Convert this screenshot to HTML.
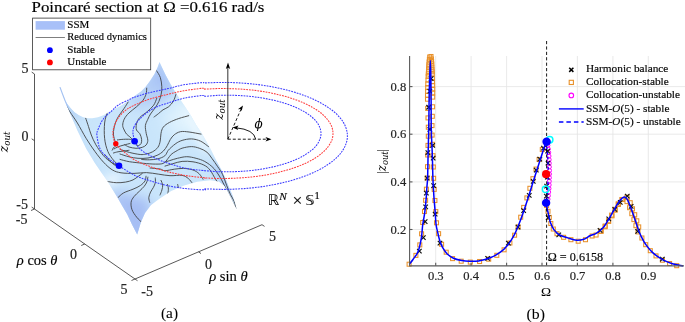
<!DOCTYPE html>
<html><head><meta charset="utf-8"><style>
html,body{margin:0;padding:0;background:#fff;}
svg{display:block;}
text{stroke:#1a1a1a;stroke-width:0.18px;}
</style></head><body>
<svg width="685" height="322" viewBox="0 0 685 322" font-family="Liberation Serif, serif">
<g stroke="#3a3a3a" stroke-width="0.85" fill="none"><path d="M34.5 74V209L135 279L262 224.7"/><path d="M34.5 74l-2.8 -1.9M34.5 140.7l-2.8 -1.9M34.5 209l-2.8 -1.9"/><path d="M34.5 209l-3.5 1.5M84.75 244l-3.5 1.5M135 279l-3.5 1.5"/><path d="M135 279l2.5 1.7M198.5 251.85l2.5 1.7M262 224.7l2.5 1.7"/></g><g font-size="14" text-anchor="end" fill="#262626"><text x="28.5" y="72.7">5</text><text x="28.4" y="141.0">0</text><text x="27.9" y="208.5">-5</text><text x="27.5" y="224.4">-5</text><text x="76.9" y="258.9">0</text><text x="127.5" y="293.7">5</text><text x="152.9" y="295.7">-5</text><text x="211.9" y="268.7">0</text><text x="275.9" y="241.2">5</text></g><text style="stroke-width:0.15px" x="16.8" y="265.4" font-size="14.5" textLength="40.7" lengthAdjust="spacingAndGlyphs"><tspan font-style="italic">&#961;</tspan> cos <tspan font-style="italic">&#952;</tspan></text><text style="stroke-width:0.15px" x="209.2" y="280.8" font-size="14.5" textLength="38.5" lengthAdjust="spacingAndGlyphs"><tspan font-style="italic">&#961;</tspan> sin <tspan font-style="italic">&#952;</tspan></text><text style="stroke:none" transform="translate(8.0 141.9) rotate(-90)" text-anchor="middle" font-size="13.5" font-family="DejaVu Serif" font-style="italic" textLength="20.6" lengthAdjust="spacingAndGlyphs">z<tspan font-size="9.5" dy="2.2">out</tspan></text><text style="stroke-width:0.08px" x="169.5" y="317.8" text-anchor="middle" font-size="14.5" textLength="17" lengthAdjust="spacingAndGlyphs">(a)</text><defs><clipPath id="sc"><path d="M60.1 87.6 L63.0 95.0 L66.2 102.4 L70.9 108.5 L74.5 112.3 L78.5 115.0 L83.0 117.3 L88.0 118.3 L92.3 118.3 L98.0 117.2 L103.4 115.2 L110.0 111.5 L115.0 108.7 L123.0 104.5 L130.0 99.5 L136.0 95.0 L141.0 91.5 L145.5 87.0 L150.0 81.0 L154.5 74.0 L157.5 67.5 L159.5 62.1 L162.5 68.5 L165.9 75.5 L170.5 84.0 L176.2 93.5 L183.6 104.5 L191.1 116.0 L196.2 125.0 L202.4 134.3 L210.2 148.3 L216.4 160.7 L221.5 170.0 L225.0 177.5 L228.4 185.7 L232.5 195.3 L235.2 203.5 L236.8 209.5 L233.8 203.5 L231.1 198.0 L227.7 191.2 L224.3 185.7 L218.8 181.6 L210.4 180.3 L197.3 181.7 L184.2 185.4 L171.2 191.0 L159.8 198.5 L151.0 205.0 L145.0 213.0 L141.0 222.0 L137.2 234.4 L132.0 224.5 L127.3 214.6 L122.0 205.5 L117.3 197.2 L112.5 189.5 L107.4 181.1 L101.3 172.5 L94.8 163.0 L86.1 148.5 L77.4 130.5 L68.7 110.0 L64.0 98.0Z"/></clipPath><filter id="b6" x="-50%" y="-50%" width="200%" height="200%"><feGaussianBlur stdDeviation="6"/></filter><filter id="b4" x="-50%" y="-50%" width="200%" height="200%"><feGaussianBlur stdDeviation="4"/></filter><filter id="b9" x="-50%" y="-50%" width="200%" height="200%"><feGaussianBlur stdDeviation="9"/></filter></defs><g clip-path="url(#sc)"><rect x="50" y="55" width="200" height="190" fill="#c9e5fb"/><path d="M58 85 L75 140 L100 185 L138 240 L120 240 L60 150 Z" fill="#a6c6f5" filter="url(#b6)"/><path d="M110 190 L150 200 L150 240 L130 240 Z" fill="#a6bef4" filter="url(#b6)"/><path d="M143 92 L160 56 L175 92 L160 102 Z" fill="#a4bff5" filter="url(#b6)"/><path d="M125 100 L160 80 L165 100 L140 110 Z" fill="#b6d0f7" filter="url(#b6)"/><path d="M210 160 L226 170 L240 212 L226 190 Z" fill="#a6c4f5" filter="url(#b4)"/><path d="M62 92 L85 117 L70 118 Z" fill="#b8d4f7" filter="url(#b4)"/><path d="M165 110 L185 100 L200 128 L185 140 L168 130 Z" fill="#e2f4fe" filter="url(#b9)"/><path d="M180 100 L200 128 L212 155 L203 150 L188 122 Z" fill="#f2fbff" filter="url(#b4)"/><path d="M98 178 L125 173 L112 186 Z" fill="#eef8ff" filter="url(#b4)"/></g><path d="M60.1 87.5 L62.5 94 L65 100.5 L68 107.5" fill="none" stroke="#a4c2f2" stroke-width="1.1" stroke-linecap="round"/><g clip-path="url(#sc)" fill="none" stroke="#3a3a3a" stroke-width="0.95" stroke-linecap="round" opacity="0.9"><path d="M64.3 102.4 C65.2 104.0 67.8 108.6 70.0 112.0 C72.2 115.4 74.7 118.6 77.4 123.0 C80.1 127.4 83.2 133.6 86.1 138.3 C89.0 143.0 91.9 147.3 94.8 151.3 C97.7 155.3 100.6 159.1 103.5 162.2 C106.4 165.3 109.3 168.0 112.2 169.8 C115.1 171.6 117.4 172.2 121.0 172.8 C124.6 173.4 129.8 173.4 134.0 173.4 C138.2 173.4 142.3 172.5 146.4 172.6 C150.5 172.7 154.9 173.7 158.8 174.2 C162.7 174.7 166.1 175.5 170.0 175.7 C173.9 175.9 179.0 174.9 182.1 175.4 C185.2 175.9 186.6 177.2 188.3 178.5 C190.0 179.8 191.5 182.3 192.2 183.1"/><path d="M85.7 118.2 C86.2 119.6 87.6 123.8 88.5 126.6 C89.4 129.4 90.1 132.0 91.3 135.0 C92.5 138.0 93.9 141.4 95.9 144.8 C97.9 148.2 101.0 152.8 103.5 155.7 C106.0 158.6 108.8 160.6 111.1 162.2 C113.4 163.8 116.5 164.9 117.6 165.4"/><path d="M107.2 112.6 C106.8 114.3 105.0 118.7 104.6 123.0 C104.2 127.3 104.1 133.6 104.6 138.3 C105.1 143.0 106.3 147.7 107.8 151.3 C109.2 154.9 111.6 157.8 113.3 160.0 C115.0 162.2 117.2 163.8 118.0 164.5"/><path d="M128.1 102.1 C127.4 103.1 125.5 106.4 124.2 108.3 C122.9 110.2 121.6 111.8 120.3 113.7 C119.0 115.7 117.5 117.6 116.5 120.0 C115.5 122.4 114.5 125.5 114.0 128.0 C113.5 130.5 113.3 132.8 113.5 135.0 C113.7 137.2 114.8 140.0 115.0 141.0"/><path d="M105.0 154.8 C106.0 156.1 109.3 160.4 111.2 162.3 C113.1 164.2 115.4 165.4 116.2 166.0"/><path d="M156.6 70.8 C157.2 71.9 159.4 74.8 160.3 77.4 C161.2 80.1 161.7 83.9 161.8 86.7 C162.0 89.5 161.7 91.6 161.2 94.1 C160.7 96.6 159.8 99.3 158.8 101.6 C157.8 103.9 156.4 105.9 155.0 108.0 C153.6 110.1 151.7 112.1 150.5 114.0 C149.3 115.9 148.7 117.4 147.8 119.3 C147.0 121.2 145.7 123.2 145.4 125.5 C145.1 127.8 145.8 130.8 146.2 133.3 C146.6 135.8 147.8 138.4 147.8 140.3 C147.8 142.2 147.1 143.7 146.2 144.9 C145.3 146.1 144.0 146.7 142.3 147.3 C140.6 147.9 138.2 148.4 136.0 148.3 C133.8 148.2 130.9 147.6 129.0 147.0 C127.1 146.4 125.4 145.1 124.7 144.7"/><path d="M146.7 88.1 C146.6 89.1 146.7 92.2 146.0 94.3 C145.3 96.4 144.4 98.4 142.8 100.5 C141.2 102.6 138.9 104.6 136.6 106.7 C134.3 108.8 131.0 110.9 128.9 113.0 C126.8 115.1 125.2 117.1 124.2 119.2 C123.2 121.3 122.7 123.6 122.7 125.4 C122.7 127.2 123.6 128.6 124.2 130.0 C124.8 131.4 125.6 132.9 126.5 134.0 C127.4 135.1 128.9 136.0 129.8 136.8 C130.7 137.6 131.6 138.6 132.0 139.0"/><path d="M156.8 98.2 C156.3 99.4 155.2 103.0 153.7 105.2 C152.1 107.4 149.8 109.3 147.5 111.4 C145.2 113.5 141.5 115.5 139.7 117.6 C137.9 119.7 137.0 121.7 136.5 123.8 C136.0 125.9 135.9 128.3 136.5 130.0 C137.1 131.7 139.0 132.1 139.8 133.7 C140.7 135.2 141.4 137.6 141.6 139.3 C141.8 141.0 141.5 142.7 141.0 143.7 C140.5 144.7 139.3 145.3 138.5 145.5 C137.7 145.7 136.5 145.0 136.1 144.9"/><path d="M176.2 93.6 C175.7 94.8 174.7 98.9 173.4 101.1 C172.2 103.3 170.4 105.2 168.7 106.7 C167.0 108.2 164.7 108.6 163.0 109.8 C161.3 111.0 159.9 112.5 158.4 113.7 C156.9 114.9 154.7 116.5 154.0 117.0"/><path d="M188.7 115.7 C187.0 116.2 182.0 117.4 178.8 118.5 C175.6 119.6 172.1 121.0 169.5 122.4 C166.9 123.8 164.7 125.3 163.3 127.1 C161.9 128.9 161.5 131.0 161.0 133.3 C160.5 135.6 160.7 138.8 160.2 141.1 C159.7 143.4 159.2 145.5 157.9 147.3 C156.6 149.1 154.4 150.8 152.4 151.9 C150.4 153.0 148.2 153.6 146.2 154.0 C144.2 154.4 143.0 154.8 140.2 154.5 C137.4 154.2 132.7 153.3 129.3 152.4 C125.9 151.5 121.5 149.8 120.0 149.3"/><path d="M201.1 134.1 C199.1 133.8 192.5 132.4 189.1 132.0 C185.7 131.6 182.9 131.2 180.4 131.7 C177.9 132.2 175.9 133.5 174.2 134.8 C172.5 136.1 171.5 137.7 170.3 139.5 C169.1 141.3 168.4 143.8 167.2 145.7 C166.0 147.6 165.0 149.5 163.3 151.1 C161.6 152.7 159.7 154.2 157.1 155.3 C154.5 156.5 151.2 157.5 148.0 158.0 C144.8 158.5 141.2 158.5 138.0 158.3 C134.8 158.1 132.0 157.5 129.0 156.8 C126.0 156.1 121.5 154.5 120.0 154.0"/><path d="M208.5 146.6 C207.2 145.7 203.5 142.5 200.7 141.2 C197.8 139.9 194.5 139.0 191.4 138.9 C188.3 138.8 184.7 139.6 182.1 140.4 C179.5 141.2 177.7 142.3 175.9 143.5 C174.1 144.7 172.5 146.2 171.2 147.4 C169.9 148.6 169.2 149.1 168.1 150.5 C167.0 151.9 166.5 154.4 164.8 155.8 C163.1 157.2 160.6 158.1 158.0 158.8 C155.4 159.5 152.2 159.7 149.5 159.8 C146.8 159.9 143.0 159.6 141.7 159.5"/><path d="M236.3 208.5 C235.9 207.2 234.9 203.3 234.0 201.0 C233.1 198.7 231.8 197.3 230.6 194.8 C229.4 192.3 228.2 189.2 226.8 185.8 C225.5 182.4 224.0 177.5 222.5 174.3 C221.0 171.1 219.6 169.4 217.8 166.8 C216.1 164.2 213.8 160.9 212.0 158.5 C210.2 156.1 209.0 153.8 206.9 152.1 C204.8 150.4 201.8 149.1 199.2 148.2 C196.6 147.3 194.2 146.6 191.4 146.6 C188.6 146.6 184.7 147.4 182.1 148.2 C179.5 149.0 177.7 150.3 175.9 151.3 C174.1 152.3 172.5 153.2 171.2 154.4 C169.9 155.6 169.3 157.0 168.0 158.5 C166.7 160.0 165.6 162.4 163.5 163.3 C161.4 164.2 159.1 164.1 155.7 164.1 C152.3 164.1 147.7 163.7 143.3 163.3 C138.9 162.9 133.2 162.3 129.3 161.7 C125.4 161.0 121.5 159.8 120.0 159.4"/><path d="M165.0 162.2 C165.8 161.9 167.6 161.2 169.7 160.6 C171.8 159.9 174.6 159.0 177.4 158.3 C180.2 157.7 183.6 156.7 186.7 156.7 C189.8 156.7 193.1 157.5 196.1 158.3 C199.1 159.1 201.8 159.8 204.8 161.5 C207.8 163.2 211.3 165.6 214.1 168.7 C216.9 171.8 219.4 176.0 221.6 179.9 C223.8 183.8 225.7 188.3 227.5 192.0 C229.3 195.7 231.2 199.5 232.5 202.0 C233.8 204.5 235.0 206.2 235.5 207.0"/><path d="M165.0 166.1 C166.3 165.7 170.0 164.5 172.8 163.7 C175.7 162.9 178.7 161.7 182.1 161.4 C185.5 161.1 189.4 161.2 193.0 161.8 C196.6 162.4 201.0 163.6 203.8 165.0 C206.6 166.4 208.0 167.5 210.0 170.0 C212.0 172.5 213.8 176.6 216.0 179.9 C218.2 183.2 220.8 187.0 223.0 190.0 C225.2 193.0 227.0 195.2 229.0 198.0 C231.0 200.8 234.0 205.5 235.0 207.0"/><path d="M150.0 168.0 C151.7 168.2 157.5 168.6 160.0 169.0 C162.5 169.4 162.6 170.7 165.0 170.7 C167.4 170.7 171.2 169.6 174.3 169.2 C177.4 168.8 180.5 168.3 183.6 168.4 C186.7 168.5 190.4 169.1 193.0 170.0 C195.6 170.9 197.5 172.2 199.2 173.8 C200.9 175.4 202.4 178.4 203.0 179.3"/><path d="M117.4 139.9 C118.4 139.8 121.5 139.4 123.6 139.3 C125.7 139.2 128.4 139.2 129.8 139.3 C131.2 139.4 131.6 139.9 132.0 140.0"/><path d="M115.5 146.0 C115.1 146.3 113.8 147.3 113.3 148.0 C112.8 148.7 112.4 149.8 112.2 150.2"/><path d="M114.0 149.0 C114.7 148.6 116.3 147.5 118.0 146.8 C119.7 146.1 122.0 145.6 124.0 145.0 C126.0 144.4 129.0 143.8 130.0 143.5"/><path d="M113.5 153.0 C114.2 152.8 116.2 152.1 118.0 151.8 C119.8 151.5 122.2 151.2 124.0 151.0 C125.8 150.8 128.2 150.4 129.0 150.3"/><path d="M106.9 181.4 C108.5 181.6 113.1 182.6 116.2 182.7 C119.3 182.8 122.7 182.6 125.5 182.1 C128.3 181.6 130.8 180.9 133.0 179.9 C135.2 178.9 136.9 177.3 138.5 176.2 C140.1 175.1 141.7 173.9 142.3 173.4"/><path d="M118.0 197.6 C118.9 196.8 121.1 194.3 123.6 192.9 C126.1 191.5 130.2 190.4 133.0 189.2 C135.8 188.0 138.4 186.9 140.4 185.5 C142.4 184.1 144.2 182.4 145.1 180.8 C146.0 179.2 145.8 177.0 146.0 176.2"/><path d="M142.3 222.8 C141.4 221.9 138.4 219.4 136.7 217.2 C135.0 215.0 132.9 212.2 132.0 209.7 C131.1 207.2 130.8 204.5 131.1 202.3 C131.4 200.1 132.5 198.6 133.9 196.7 C135.3 194.8 137.8 192.8 139.5 191.1 C141.2 189.4 142.9 187.9 144.1 186.4 C145.3 184.9 146.3 183.4 146.9 181.8 C147.5 180.2 147.7 177.9 147.9 177.1"/><path d="M149.7 202.3 C149.5 201.5 148.7 199.3 148.8 197.6 C149.0 195.9 149.8 193.7 150.6 192.0 C151.4 190.3 152.6 189.0 153.4 187.4 C154.2 185.8 155.0 184.3 155.3 182.7 C155.6 181.1 155.3 178.8 155.3 178.0"/><path d="M160.0 195.0 C160.3 194.2 161.5 191.7 161.9 190.0 C162.3 188.3 162.8 186.6 162.7 185.0 C162.5 183.4 161.3 181.2 161.0 180.4"/><path d="M167.5 184.5 C167.7 185.3 168.4 187.5 168.4 189.2 C168.4 190.9 167.7 193.9 167.5 194.8"/><path d="M177.7 184.5 C177.9 185.3 178.5 188.7 178.7 189.5"/></g><path d="M98.0 129.6 C99.1 126.7 101.1 121.9 103.5 118.7 C105.9 115.5 109.8 112.8 112.2 110.5 C114.6 108.2 115.3 107.0 118.0 105.2 C120.7 103.4 126.0 101.2 128.6 99.9 C131.2 98.6 130.4 98.7 133.5 97.6 C136.6 96.5 141.6 94.7 147.3 93.2 C153.1 91.7 161.9 90.0 168.0 88.6 C174.1 87.2 177.9 85.8 183.6 84.8 C189.3 83.8 198.7 82.9 202.3 82.6 C205.9 82.3 201.6 82.9 205.0 82.9 C208.4 82.9 216.8 82.4 222.8 82.4 C228.7 82.4 234.7 82.6 240.5 83.0 C246.4 83.3 252.2 83.9 257.9 84.6 C263.6 85.3 269.2 86.2 274.6 87.3 C280.0 88.4 285.2 89.6 290.2 91.0 C295.2 92.4 300.0 93.9 304.4 95.6 C308.9 97.2 313.1 99.0 317.0 100.9 C320.9 102.9 324.4 104.9 327.6 107.1 C330.8 109.2 333.7 111.4 336.2 113.7 C338.6 116.0 340.7 118.4 342.4 120.9 C344.0 123.3 345.3 125.8 346.1 128.3 C347.0 130.8 347.4 133.4 347.4 135.9 C347.4 138.4 347.0 141.0 346.1 143.5 C345.3 146.0 344.0 148.5 342.4 150.9 C340.7 153.4 338.6 155.8 336.2 158.1 C333.7 160.4 330.8 162.6 327.6 164.7 C324.4 166.9 320.9 168.9 317.0 170.9 C313.1 172.8 308.9 174.6 304.4 176.2 C300.0 177.9 295.2 179.4 290.2 180.8 C285.2 182.2 280.0 183.4 274.6 184.5 C269.2 185.6 263.6 186.5 257.9 187.2 C252.2 187.9 246.4 188.5 240.5 188.8 C234.7 189.2 228.7 189.4 222.8 189.4 C216.8 189.4 208.0 188.8 205.0 188.9 C202.0 189.0 207.7 189.9 204.5 189.9 C201.3 189.9 192.1 189.3 185.9 188.6 C179.7 187.9 173.1 186.8 167.3 185.6 C161.5 184.3 156.4 182.8 151.1 181.1 C145.8 179.4 140.8 178.2 135.5 175.7 C130.2 173.1 123.6 168.8 119.0 165.8 C114.4 162.8 110.9 160.6 107.8 157.8 C104.7 155.0 102.0 152.7 100.2 149.1 C98.4 145.5 97.4 139.2 97.0 136.0 C96.6 132.8 96.9 132.5 98.0 129.6Z" fill="none" stroke="#3b3bff" stroke-width="1.05" stroke-dasharray="1.8 1.0"/><path d="M113.3 129.6 C114.0 126.5 115.6 122.1 117.6 118.9 C119.6 115.7 122.5 112.8 125.2 110.6 C127.9 108.4 129.5 107.5 133.5 105.6 C137.5 103.7 143.3 101.2 149.1 99.3 C154.8 97.4 162.2 95.7 168.0 94.3 C173.8 92.9 177.9 91.8 183.6 90.8 C189.3 89.8 198.7 88.6 202.3 88.3 C205.9 88.0 201.9 89.1 205.0 89.1 C208.1 89.1 215.5 88.5 220.8 88.5 C226.1 88.5 231.5 88.6 236.7 88.9 C241.9 89.1 247.2 89.6 252.3 90.1 C257.4 90.7 262.4 91.4 267.3 92.3 C272.1 93.2 276.8 94.2 281.3 95.4 C285.8 96.5 290.1 97.8 294.1 99.2 C298.2 100.6 302.0 102.1 305.5 103.7 C309.0 105.4 312.2 107.1 315.1 108.9 C318.0 110.7 320.6 112.6 322.8 114.6 C325.0 116.6 326.9 118.6 328.4 120.7 C329.9 122.7 331.1 124.9 331.9 127.0 C332.6 129.2 333.0 131.3 333.0 133.5 C333.0 135.7 332.6 137.8 331.9 140.0 C331.1 142.1 329.9 144.3 328.4 146.3 C326.9 148.4 325.0 150.4 322.8 152.4 C320.6 154.4 318.0 156.3 315.1 158.1 C312.2 159.9 309.0 161.6 305.5 163.3 C302.0 164.9 298.2 166.4 294.1 167.8 C290.1 169.2 285.8 170.5 281.3 171.6 C276.8 172.8 272.1 173.8 267.3 174.7 C262.4 175.6 257.4 176.3 252.3 176.9 C247.2 177.4 241.9 177.9 236.7 178.1 C231.5 178.4 226.1 178.5 220.8 178.5 C215.5 178.5 207.7 178.0 205.0 177.9 C202.3 177.8 207.7 178.2 204.5 177.8 C201.3 177.4 192.1 176.6 185.9 175.6 C179.7 174.6 173.1 173.1 167.3 171.7 C161.5 170.2 156.4 168.8 151.1 166.9 C145.8 165.0 139.4 162.5 135.5 160.4 C131.6 158.3 129.8 156.4 127.4 154.6 C125.0 152.8 122.8 151.1 120.9 149.3 C119.0 147.5 117.1 145.7 115.8 143.7 C114.5 141.7 113.7 139.7 113.3 137.3 C112.9 135.0 112.6 132.7 113.3 129.6Z" fill="none" stroke="#ff3b3b" stroke-width="1.05" stroke-dasharray="1.8 1.0"/><path d="M133.8 127.4 C134.7 125.1 136.2 123.0 138.2 120.7 C140.2 118.4 143.2 115.6 146.0 113.4 C148.8 111.2 151.6 109.2 155.3 107.5 C159.0 105.8 163.3 104.5 168.0 103.0 C172.7 101.5 177.9 99.5 183.6 98.3 C189.3 97.0 198.7 95.8 202.3 95.5 C205.9 95.2 202.2 96.3 205.0 96.3 C207.8 96.2 214.3 95.5 219.0 95.3 C223.6 95.2 228.4 95.2 233.1 95.3 C237.8 95.4 242.5 95.7 247.1 96.1 C251.7 96.5 256.3 97.1 260.7 97.7 C265.0 98.4 269.3 99.3 273.4 100.2 C277.5 101.1 281.5 102.2 285.2 103.4 C288.9 104.6 292.4 105.9 295.6 107.3 C298.8 108.7 301.8 110.2 304.5 111.8 C307.1 113.4 309.5 115.1 311.6 116.8 C313.6 118.5 315.4 120.3 316.8 122.1 C318.2 124.0 319.2 125.9 319.9 127.8 C320.6 129.6 321.0 131.6 321.0 133.5 C321.0 135.4 320.6 137.4 319.9 139.2 C319.2 141.1 318.2 143.0 316.8 144.9 C315.4 146.7 313.6 148.5 311.6 150.2 C309.5 151.9 307.1 153.6 304.5 155.2 C301.8 156.8 298.8 158.3 295.6 159.7 C292.4 161.1 288.9 162.4 285.2 163.6 C281.5 164.8 277.5 165.9 273.4 166.8 C269.3 167.7 265.0 168.6 260.7 169.3 C256.3 169.9 251.7 170.5 247.1 170.9 C242.5 171.3 237.8 171.6 233.1 171.7 C228.4 171.8 223.6 171.8 219.0 171.7 C214.3 171.5 207.4 170.9 205.0 170.7 C202.6 170.6 207.7 171.1 204.5 170.7 C201.3 170.3 191.7 169.5 185.9 168.3 C180.2 167.2 174.5 165.2 170.0 163.8 C165.5 162.4 163.2 161.8 158.8 159.8 C154.4 157.8 147.0 154.2 143.3 151.6 C139.6 149.0 138.2 147.4 136.5 144.5 C134.8 141.6 133.5 137.2 133.1 134.4 C132.7 131.6 133.0 129.7 133.8 127.4Z" fill="none" stroke="#3b3bff" stroke-width="1.05" stroke-dasharray="1.8 1.0"/><circle cx="134.6" cy="141.2" r="3.3" fill="#0000ff"/><circle cx="115.8" cy="143.7" r="2.7" fill="#ff0000"/><circle cx="119" cy="165.8" r="3.3" fill="#0000ff"/><g stroke="#000" fill="none" stroke-width="0.9"><line x1="227.8" y1="139.2" x2="227.8" y2="65" stroke="#444" stroke-width="1.1"/><line x1="227.8" y1="139.2" x2="268" y2="139.2" stroke-dasharray="3 2"/><line x1="227.8" y1="139.2" x2="241" y2="109.3" stroke-dasharray="3 2"/><path d="M255.7 139.2 Q254 129.5 236 127.8"/></g><g fill="#000"><path d="M228 62.5 L225.8 69 L228 67.5 L230.2 69Z"/><path d="M271.5 139.2 L265.5 137 L267 139.2 L265.5 141.4Z"/><path d="M243 105.5 L237.9 109.3 L240.4 108.9 L241.7 111Z"/><path d="M232.5 127.5 L238.5 125.6 L237 127.7 L238.2 130Z"/></g><text style="stroke:none" x="254.4" y="127.6" font-size="12" font-style="italic" font-family="DejaVu Serif">&#981;</text><text style="stroke:none" transform="translate(223.3 109.5) rotate(-90)" text-anchor="middle" font-size="13" font-family="DejaVu Serif" font-style="italic" textLength="20.4" lengthAdjust="spacingAndGlyphs">z<tspan font-size="9.3" dy="2.1">out</tspan></text><g style="stroke-width:0.1px" font-size="14.5"><text style="stroke:none" x="267.7" y="205.2" font-family="DejaVu Sans">&#8477;</text><text x="279.3" y="199.6" font-size="11.3" font-style="italic">N</text><text x="292.6" y="206" font-size="17.5">&#215;</text><text x="305.3" y="205.2" font-family="DejaVu Sans">&#120138;</text><text x="314.6" y="199.4" font-size="10.5">1</text></g><rect x="32.6" y="18.1" width="118.1" height="51.7" fill="#fff" stroke="#333" stroke-width="0.8"/><rect x="35.6" y="21.1" width="29.3" height="8.6" fill="#a8c0f8"/><line x1="35.6" y1="37.5" x2="64.9" y2="37.5" stroke="#707070" stroke-width="0.9"/><circle cx="49.9" cy="50.2" r="2.9" fill="#0000ff"/><circle cx="49.9" cy="62.4" r="2.9" fill="#ff0000"/><g font-size="11"><text x="67.3" y="27.7">SSM</text><text x="67.3" y="40.4" textLength="79.6" lengthAdjust="spacingAndGlyphs">Reduced dynamics</text><text x="67.3" y="52.8">Stable</text><text x="67.3" y="65">Unstable</text></g><text x="31.5" y="12.2" font-size="14.6" textLength="232.9" lengthAdjust="spacingAndGlyphs">Poincar&#233; section at &#937; =0.616 rad/s</text><g stroke="#e3e3e3" stroke-width="0.8"><line x1="435.7" y1="56" x2="435.7" y2="265.5"/><line x1="471.1" y1="56" x2="471.1" y2="265.5"/><line x1="506.6" y1="56" x2="506.6" y2="265.5"/><line x1="542.0" y1="56" x2="542.0" y2="265.5"/><line x1="577.4" y1="56" x2="577.4" y2="265.5"/><line x1="612.9" y1="56" x2="612.9" y2="265.5"/><line x1="648.3" y1="56" x2="648.3" y2="265.5"/><line x1="410" y1="229.5" x2="685" y2="229.5"/><line x1="410" y1="181.9" x2="685" y2="181.9"/><line x1="410" y1="134.2" x2="685" y2="134.2"/><line x1="410" y1="86.6" x2="685" y2="86.6"/></g><g fill="none" stroke="#e8912b" stroke-width="1.05"><rect x="407.1" y="262.2" width="4" height="4"/><rect x="413.9" y="253.4" width="4" height="4"/><rect x="417.8" y="242.9" width="4" height="4"/><rect x="419.6" y="231.8" width="4" height="4"/><rect x="420.7" y="220.5" width="4" height="4"/><rect x="422.5" y="209.5" width="4" height="4"/><rect x="423.6" y="198.3" width="4" height="4"/><rect x="424.4" y="187.2" width="4" height="4"/><rect x="425.2" y="176.0" width="4" height="4"/><rect x="425.5" y="164.7" width="4" height="4"/><rect x="425.7" y="153.0" width="4" height="4"/><rect x="426.0" y="143.4" width="4" height="4"/><rect x="426.3" y="134.2" width="4" height="4"/><rect x="426.3" y="125.2" width="4" height="4"/><rect x="426.0" y="115.9" width="4" height="4"/><rect x="425.7" y="106.4" width="4" height="4"/><rect x="425.5" y="97.2" width="4" height="4"/><rect x="425.5" y="93.4" width="4" height="4"/><rect x="425.6" y="89.3" width="4" height="4"/><rect x="425.7" y="85.6" width="4" height="4"/><rect x="425.8" y="81.9" width="4" height="4"/><rect x="426.0" y="78.0" width="4" height="4"/><rect x="426.2" y="74.3" width="4" height="4"/><rect x="426.3" y="72.0" width="4" height="4"/><rect x="426.5" y="69.6" width="4" height="4"/><rect x="426.6" y="67.2" width="4" height="4"/><rect x="426.8" y="64.9" width="4" height="4"/><rect x="426.9" y="62.7" width="4" height="4"/><rect x="427.1" y="60.0" width="4" height="4"/><rect x="427.4" y="57.4" width="4" height="4"/><rect x="427.7" y="55.0" width="4" height="4"/><rect x="429.0" y="54.5" width="4" height="4"/><rect x="429.4" y="57.0" width="4" height="4"/><rect x="429.6" y="59.5" width="4" height="4"/><rect x="429.8" y="62.0" width="4" height="4"/><rect x="429.9" y="65.0" width="4" height="4"/><rect x="430.0" y="67.4" width="4" height="4"/><rect x="430.2" y="69.8" width="4" height="4"/><rect x="430.3" y="72.2" width="4" height="4"/><rect x="430.4" y="76.1" width="4" height="4"/><rect x="430.5" y="79.7" width="4" height="4"/><rect x="430.6" y="83.5" width="4" height="4"/><rect x="430.7" y="87.1" width="4" height="4"/><rect x="430.7" y="90.9" width="4" height="4"/><rect x="430.7" y="95.1" width="4" height="4"/><rect x="430.6" y="104.8" width="4" height="4"/><rect x="430.3" y="114.3" width="4" height="4"/><rect x="430.0" y="123.6" width="4" height="4"/><rect x="430.1" y="133.1" width="4" height="4"/><rect x="430.5" y="142.3" width="4" height="4"/><rect x="431.0" y="153.7" width="4" height="4"/><rect x="431.3" y="165.0" width="4" height="4"/><rect x="431.6" y="176.3" width="4" height="4"/><rect x="432.2" y="187.4" width="4" height="4"/><rect x="432.9" y="198.5" width="4" height="4"/><rect x="433.8" y="209.6" width="4" height="4"/><rect x="434.5" y="220.8" width="4" height="4"/><rect x="436.6" y="231.7" width="4" height="4"/><rect x="439.6" y="242.3" width="4" height="4"/><rect x="444.2" y="250.2" width="4" height="4"/><rect x="450.6" y="256.6" width="4" height="4"/><rect x="459.2" y="259.2" width="4" height="4"/><rect x="468.3" y="260.1" width="4" height="4"/><rect x="477.6" y="259.5" width="4" height="4"/><rect x="486.7" y="257.2" width="4" height="4"/><rect x="494.8" y="253.3" width="4" height="4"/><rect x="502.1" y="247.8" width="4" height="4"/><rect x="507.9" y="241.0" width="4" height="4"/><rect x="512.6" y="233.2" width="4" height="4"/><rect x="516.1" y="224.9" width="4" height="4"/><rect x="518.7" y="215.2" width="4" height="4"/><rect x="521.7" y="205.4" width="4" height="4"/><rect x="524.9" y="195.9" width="4" height="4"/><rect x="527.9" y="186.3" width="4" height="4"/><rect x="530.9" y="176.7" width="4" height="4"/><rect x="534.0" y="167.1" width="4" height="4"/><rect x="537.1" y="157.5" width="4" height="4"/><rect x="540.3" y="147.5" width="4" height="4"/><rect x="544.6" y="203.5" width="4" height="4"/><rect x="546.0" y="209.3" width="4" height="4"/><rect x="547.3" y="215.4" width="4" height="4"/><rect x="548.8" y="221.5" width="4" height="4"/><rect x="551.3" y="227.0" width="4" height="4"/><rect x="555.0" y="231.7" width="4" height="4"/><rect x="561.6" y="235.3" width="4" height="4"/><rect x="568.9" y="237.7" width="4" height="4"/><rect x="576.2" y="239.2" width="4" height="4"/><rect x="583.5" y="237.7" width="4" height="4"/><rect x="590.1" y="234.0" width="4" height="4"/><rect x="594.1" y="233.0" width="4" height="4"/><rect x="598.6" y="229.3" width="4" height="4"/><rect x="599.3" y="229.2" width="4" height="4"/><rect x="603.1" y="224.7" width="4" height="4"/><rect x="603.2" y="224.0" width="4" height="4"/><rect x="606.7" y="219.4" width="4" height="4"/><rect x="606.5" y="218.7" width="4" height="4"/><rect x="610.0" y="213.8" width="4" height="4"/><rect x="609.7" y="213.1" width="4" height="4"/><rect x="613.2" y="208.2" width="4" height="4"/><rect x="613.0" y="207.3" width="4" height="4"/><rect x="616.4" y="202.5" width="4" height="4"/><rect x="616.2" y="201.8" width="4" height="4"/><rect x="619.9" y="197.5" width="4" height="4"/><rect x="620.4" y="197.5" width="4" height="4"/><rect x="625.0" y="195.2" width="4" height="4"/><rect x="625.0" y="199.6" width="4" height="4"/><rect x="628.2" y="200.7" width="4" height="4"/><rect x="627.6" y="205.7" width="4" height="4"/><rect x="630.5" y="206.8" width="4" height="4"/><rect x="629.8" y="211.7" width="4" height="4"/><rect x="632.7" y="212.7" width="4" height="4"/><rect x="631.9" y="217.6" width="4" height="4"/><rect x="634.8" y="218.8" width="4" height="4"/><rect x="633.9" y="223.7" width="4" height="4"/><rect x="636.7" y="224.9" width="4" height="4"/><rect x="636.0" y="229.9" width="4" height="4"/><rect x="639.9" y="236.0" width="4" height="4"/><rect x="643.7" y="242.7" width="4" height="4"/><rect x="648.3" y="248.7" width="4" height="4"/><rect x="654.0" y="253.9" width="4" height="4"/><rect x="660.4" y="258.2" width="4" height="4"/><rect x="667.6" y="261.5" width="4" height="4"/><rect x="674.7" y="263.7" width="4" height="4"/></g><g fill="none" stroke="#ff00ff" stroke-width="1"><circle cx="547.4" cy="141.8" r="2"/><circle cx="547.9" cy="145.4" r="2"/><circle cx="548.3" cy="148.9" r="2"/><circle cx="548.7" cy="152.5" r="2"/><circle cx="549.0" cy="156.1" r="2"/><circle cx="549.2" cy="159.7" r="2"/><circle cx="549.3" cy="163.3" r="2"/><circle cx="549.4" cy="166.9" r="2"/><circle cx="549.5" cy="170.5" r="2"/><circle cx="549.5" cy="174.1" r="2"/><circle cx="549.4" cy="177.7" r="2"/><circle cx="549.3" cy="181.3" r="2"/><circle cx="549.2" cy="184.9" r="2"/><circle cx="549.0" cy="188.5" r="2"/><circle cx="548.7" cy="192.1" r="2"/><circle cx="548.4" cy="195.7" r="2"/><circle cx="548.0" cy="199.2" r="2"/><circle cx="547.6" cy="202.8" r="2"/></g><g stroke="#111" stroke-width="1.2"><path d="M417.1 248.8 l4.5 4.5 M421.6 248.8 l-4.5 4.5"/><path d="M421.1 235.4 l4.5 4.5 M425.6 235.4 l-4.5 4.5"/><path d="M422.9 219.4 l4.5 4.5 M427.4 219.4 l-4.5 4.5"/><path d="M423.4 204.6 l4.5 4.5 M427.9 204.6 l-4.5 4.5"/><path d="M424.1 190.8 l4.5 4.5 M428.6 190.8 l-4.5 4.5"/><path d="M424.9 175.8 l4.5 4.5 M429.4 175.8 l-4.5 4.5"/><path d="M425.6 150.3 l4.5 4.5 M430.1 150.3 l-4.5 4.5"/><path d="M427.6 127.2 l4.5 4.5 M432.1 127.2 l-4.5 4.5"/><path d="M426.4 105.0 l4.5 4.5 M430.9 105.0 l-4.5 4.5"/><path d="M427.6 88.8 l4.5 4.5 M432.1 88.8 l-4.5 4.5"/><path d="M428.9 76.3 l4.5 4.5 M433.4 76.3 l-4.5 4.5"/><path d="M430.4 143.1 l4.5 4.5 M434.9 143.1 l-4.5 4.5"/><path d="M430.9 155.9 l4.5 4.5 M435.4 155.9 l-4.5 4.5"/><path d="M431.4 183.4 l4.5 4.5 M435.9 183.4 l-4.5 4.5"/><path d="M432.9 211.8 l4.5 4.5 M437.4 211.8 l-4.5 4.5"/><path d="M437.8 240.8 l4.5 4.5 M442.2 240.8 l-4.5 4.5"/><path d="M485.4 256.1 l4.5 4.5 M489.9 256.1 l-4.5 4.5"/><path d="M506.1 240.8 l4.5 4.5 M510.6 240.8 l-4.5 4.5"/><path d="M515.8 224.9 l4.5 4.5 M520.2 224.9 l-4.5 4.5"/><path d="M521.4 208.3 l4.5 4.5 M525.9 208.3 l-4.5 4.5"/><path d="M527.0 193.2 l4.5 4.5 M531.5 193.2 l-4.5 4.5"/><path d="M531.0 179.1 l4.5 4.5 M535.5 179.1 l-4.5 4.5"/><path d="M534.0 167.9 l4.5 4.5 M538.5 167.9 l-4.5 4.5"/><path d="M537.5 156.8 l4.5 4.5 M542.0 156.8 l-4.5 4.5"/><path d="M541.2 145.8 l4.5 4.5 M545.8 145.8 l-4.5 4.5"/><path d="M545.9 215.4 l4.5 4.5 M550.4 215.4 l-4.5 4.5"/><path d="M556.5 232.6 l4.5 4.5 M561.0 232.6 l-4.5 4.5"/><path d="M597.8 228.1 l4.5 4.5 M602.2 228.1 l-4.5 4.5"/><path d="M606.5 216.7 l4.5 4.5 M611.0 216.7 l-4.5 4.5"/><path d="M612.5 207.2 l4.5 4.5 M617.0 207.2 l-4.5 4.5"/><path d="M618.0 200.2 l4.5 4.5 M622.5 200.2 l-4.5 4.5"/><path d="M625.0 193.8 l4.5 4.5 M629.5 193.8 l-4.5 4.5"/><path d="M628.9 204.1 l4.5 4.5 M633.4 204.1 l-4.5 4.5"/><path d="M635.4 229.2 l4.5 4.5 M639.9 229.2 l-4.5 4.5"/><path d="M660.1 256.9 l4.5 4.5 M664.6 256.9 l-4.5 4.5"/><path d="M545.4 148.8 l4.5 4.5 M549.9 148.8 l-4.5 4.5"/><path d="M545.8 160.8 l4.5 4.5 M550.2 160.8 l-4.5 4.5"/><path d="M545.1 174.8 l4.5 4.5 M549.6 174.8 l-4.5 4.5"/><path d="M544.4 183.8 l4.5 4.5 M548.9 183.8 l-4.5 4.5"/><path d="M544.1 193.8 l4.5 4.5 M548.6 193.8 l-4.5 4.5"/></g><path d="M409.3 264.2 C409.9 263.4 411.6 261.6 413.0 259.5 C414.4 257.4 416.6 255.2 418.0 251.7 C419.4 248.2 420.5 242.8 421.3 238.3 C422.1 233.9 422.1 229.2 422.7 225.0 C423.3 220.8 424.1 217.1 424.7 212.8 C425.3 208.5 425.7 203.6 426.1 199.4 C426.5 195.2 426.6 191.0 426.9 187.4 C427.1 183.8 427.4 183.4 427.6 178.0 C427.8 172.6 427.9 163.0 428.1 155.0 C428.3 147.0 428.5 139.2 428.7 130.0 C428.9 120.8 429.0 108.3 429.1 100.0 C429.2 91.7 429.4 86.6 429.6 80.0 C429.8 73.4 430.1 60.5 430.3 60.5 C430.5 60.5 430.8 73.4 430.9 80.0 C431.0 86.6 431.0 91.7 431.1 100.0 C431.2 108.3 431.1 121.3 431.3 130.0 C431.5 138.7 431.9 144.0 432.2 152.0 C432.5 160.0 432.7 172.0 432.9 178.0 C433.1 184.0 433.2 184.4 433.4 188.0 C433.6 191.6 433.8 195.5 434.1 199.4 C434.4 203.3 434.8 207.2 435.1 211.3 C435.4 215.4 435.6 220.4 436.0 224.0 C436.4 227.6 437.2 230.0 437.8 232.8 C438.4 235.6 439.0 238.3 439.8 240.7 C440.6 243.1 441.2 245.0 442.4 247.2 C443.6 249.4 445.1 251.8 447.0 253.7 C448.9 255.5 451.0 257.1 453.5 258.3 C456.0 259.5 459.4 260.1 462.0 260.6 C464.6 261.1 466.4 261.2 469.2 261.3 C471.9 261.4 475.0 261.5 478.5 260.9 C482.0 260.3 486.5 259.3 490.2 257.8 C493.9 256.3 497.8 254.1 500.7 251.9 C503.6 249.8 505.6 247.5 507.8 244.9 C510.0 242.3 511.9 239.3 513.6 236.2 C515.3 233.1 516.4 230.4 518.0 226.5 C519.6 222.6 521.3 218.2 523.1 213.0 C524.9 207.8 527.0 201.4 528.9 195.5 C530.8 189.6 532.6 183.5 534.5 177.5 C536.4 171.5 538.4 165.4 540.3 159.5 C542.2 153.6 545.0 144.8 546.0 141.8" fill="none" stroke="#0000ff" stroke-width="1.5" stroke-linejoin="round"/><path d="M546.2 204.6 C546.5 205.9 547.4 209.6 548.1 212.6 C548.8 215.6 549.3 219.5 550.3 222.3 C551.3 225.1 552.4 227.6 553.9 229.6 C555.4 231.6 556.7 233.2 559.0 234.6 C561.3 236.0 564.9 237.0 567.8 237.9 C570.7 238.8 573.8 240.0 576.5 240.2 C579.2 240.4 581.5 240.0 583.8 239.3 C586.0 238.6 587.9 236.8 590.0 235.8 C592.1 234.8 594.1 234.5 596.2 233.3 C598.3 232.1 600.3 230.9 602.4 228.6 C604.5 226.3 606.5 222.8 608.6 219.5 C610.7 216.2 613.0 211.7 614.8 208.6 C616.6 205.5 617.9 202.8 619.5 200.9 C621.1 199.0 622.9 197.3 624.2 197.0 C625.5 196.7 626.1 197.4 627.3 199.3 C628.4 201.2 629.8 205.2 631.1 208.6 C632.4 212.0 633.8 216.1 635.0 219.5 C636.2 222.9 637.1 226.2 638.1 229.0 C639.1 231.8 639.7 233.4 641.0 236.0 C642.3 238.6 643.8 241.7 645.7 244.4 C647.6 247.1 649.7 249.9 652.4 252.4 C655.1 254.9 658.4 257.2 661.7 259.1 C665.0 261.0 668.9 262.7 672.4 263.8 C675.9 264.9 681.2 265.6 683.0 266.0" fill="none" stroke="#0000ff" stroke-width="1.5" stroke-linejoin="round"/><path d="M546.1 141.8 C546.4 144.0 547.2 150.0 547.6 155.0 C548.0 160.0 548.2 166.2 548.2 172.0 C548.2 177.8 547.9 184.7 547.6 190.0 C547.3 195.3 546.4 201.3 546.2 203.6" fill="none" stroke="#0000ff" stroke-width="1.3" stroke-dasharray="3 2"/><line x1="546.6" y1="41" x2="546.6" y2="265.5" stroke="#000" stroke-width="0.9" stroke-dasharray="3.2 2.2"/><circle cx="549.7" cy="139.8" r="3.2" fill="none" stroke="#00ffff" stroke-width="1.5"/><circle cx="546.6" cy="141.8" r="4.2" fill="#0000ff"/><circle cx="546.1" cy="174.2" r="4.1" fill="#ff0000"/><circle cx="545.7" cy="189.3" r="3.3" fill="none" stroke="#00ffff" stroke-width="1.5"/><circle cx="546.1" cy="202.9" r="4.2" fill="#0000ff"/><g stroke="#5a5a5a" stroke-width="1.1" fill="none"><path d="M409.6 56V265.9H684"/><line x1="435.7" y1="265.7" x2="435.7" y2="262.8"/><line x1="471.1" y1="265.7" x2="471.1" y2="262.8"/><line x1="506.6" y1="265.7" x2="506.6" y2="262.8"/><line x1="542.0" y1="265.7" x2="542.0" y2="262.8"/><line x1="577.4" y1="265.7" x2="577.4" y2="262.8"/><line x1="612.9" y1="265.7" x2="612.9" y2="262.8"/><line x1="648.3" y1="265.7" x2="648.3" y2="262.8"/><line x1="409.6" y1="229.5" x2="412.5" y2="229.5"/><line x1="409.6" y1="181.9" x2="412.5" y2="181.9"/><line x1="409.6" y1="134.2" x2="412.5" y2="134.2"/><line x1="409.6" y1="86.6" x2="412.5" y2="86.6"/></g><g font-size="12.6" fill="#262626"><text x="435.8" y="280.4" text-anchor="middle">0.3</text><text x="471.2" y="280.4" text-anchor="middle">0.4</text><text x="506.7" y="280.4" text-anchor="middle">0.5</text><text x="542.1" y="280.4" text-anchor="middle">0.6</text><text x="577.5" y="280.4" text-anchor="middle">0.7</text><text x="613.0" y="280.4" text-anchor="middle">0.8</text><text x="648.4" y="280.4" text-anchor="middle">0.9</text><text x="406.2" y="233.6" text-anchor="end">0.2</text><text x="406.2" y="186.0" text-anchor="end">0.4</text><text x="406.2" y="138.3" text-anchor="end">0.6</text><text x="406.2" y="90.7" text-anchor="end">0.8</text></g><text style="stroke-width:0.05px" x="546" y="295.9" text-anchor="middle" font-size="13.5">&#937;</text><text style="stroke:none" transform="translate(385.8 161.3) rotate(-90)" text-anchor="middle" font-size="13" textLength="24.4" lengthAdjust="spacingAndGlyphs">|<tspan font-family="DejaVu Serif" font-style="italic">z</tspan><tspan font-family="DejaVu Serif" font-style="italic" font-size="9.3" dy="2.1">out</tspan><tspan dy="-2.1">|</tspan></text><text style="stroke-width:0.08px" x="535.8" y="318.8" text-anchor="middle" font-size="14.5" textLength="18.4" lengthAdjust="spacingAndGlyphs">(b)</text><text x="547.8" y="261.3" font-size="12" textLength="55.4" lengthAdjust="spacingAndGlyphs">&#937; = 0.6158</text><g font-size="11.3"><path d="M569.2 67.7 l4.2 4.2 M573.4 67.7 l-4.2 4.2" stroke="#000" stroke-width="1.5"/><rect x="569.2" y="80.3" width="4.2" height="4.2" fill="none" stroke="#e8912b" stroke-width="1.1"/><circle cx="571.3" cy="95.4" r="2.3" fill="none" stroke="#ff00ff" stroke-width="1.1"/><line x1="558.9" y1="108.9" x2="583.7" y2="108.9" stroke="#0000ff" stroke-width="1.4"/><line x1="558.9" y1="122" x2="583.7" y2="122" stroke="#0000ff" stroke-width="1.4" stroke-dasharray="4.5 3"/><text x="585.9" y="72.4">Harmonic balance</text><text x="585.9" y="85.0">Collocation-stable</text><text x="585.9" y="98.0">Collocation-unstable</text><text x="585.9" y="111.5">SSM-<tspan font-family="DejaVu Serif" font-style="italic" font-size="10">O</tspan>(5) - stable</text><text x="585.9" y="124.6">SSM-<tspan font-family="DejaVu Serif" font-style="italic" font-size="10">O</tspan>(5) - unstable</text></g>
</svg></body></html>
